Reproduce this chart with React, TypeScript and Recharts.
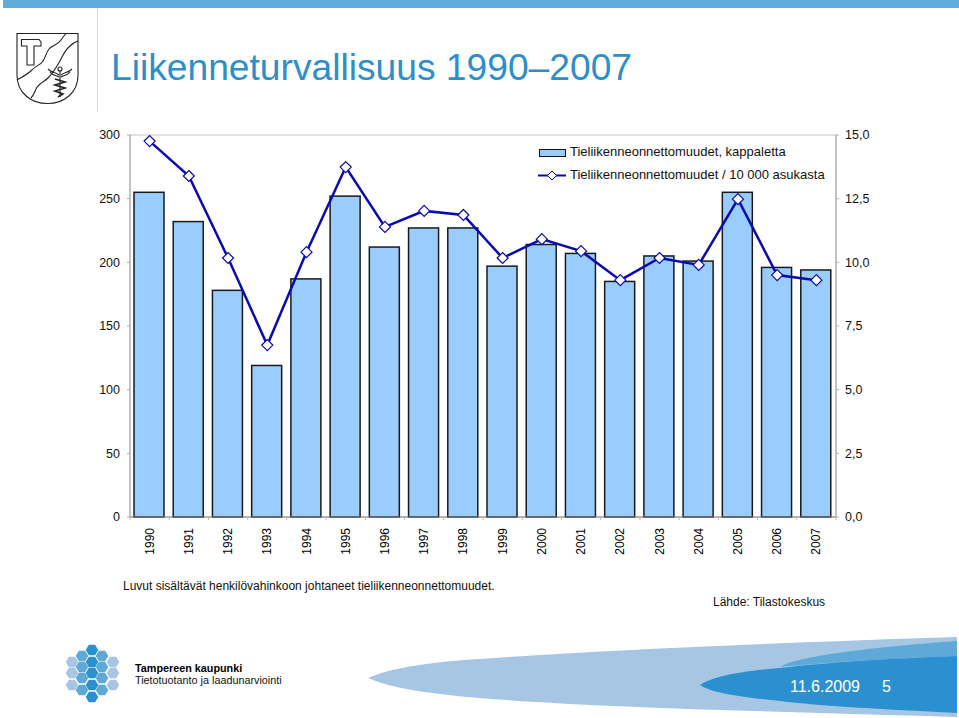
import React from 'react';
import { Bar, CartesianGrid, ComposedChart, Legend, Line, XAxis, YAxis } from 'recharts';

const years = ['1990', '1991', '1992', '1993', '1994', '1995', '1996', '1997', '1998', '1999', '2000', '2001', '2002', '2003', '2004', '2005', '2006', '2007'];
const accidents = [255, 232, 178, 119, 187, 252, 212, 227, 227, 197, 214, 207, 185, 205, 201, 255, 196, 194];
const perTenThousand = [14.76, 13.39, 10.17, 6.75, 10.4, 13.74, 11.39, 12.02, 11.86, 10.17, 10.91, 10.44, 9.3, 10.17, 9.9, 12.48, 9.5, 9.3];
const leftTicks = [0, 50, 100, 150, 200, 250, 300];
const rightTicks = [0, 2.5, 5, 7.5, 10, 12.5, 15];

const data = years.map((year, i) => ({ year, accidents: accidents[i], rate: perTenThousand[i] }));

const FONT = '"Liberation Sans", Arial, sans-serif';
const BAR_NAME = 'Tieliikenneonnettomuudet, kappaletta';
const LINE_NAME = 'Tieliikenneonnettomuudet / 10 000 asukasta';
const LINE_BLUE = '#0a0ab0';
const BAND = 706 / years.length;

// year label plus the small tick on the category boundary
const YearTick = ({ x, y, payload, index }: any) => (
  <g>
    <line x1={x - BAND / 2} x2={x - BAND / 2} y1={y - 8} y2={y - 5} stroke="#b8b8b8" />
    {index === years.length - 1 && (
      <line x1={x + BAND / 2} x2={x + BAND / 2} y1={y - 8} y2={y - 5} stroke="#b8b8b8" />
    )}
    <text
      transform={`translate(${x + 4},${y + 3}) rotate(-90)`}
      textAnchor="end"
      fontSize={12}
      fontFamily={FONT}
      fill="#000"
    >
      {payload.value}
    </text>
  </g>
);

const Diamond = ({ cx, cy }: any) => (
  <path
    d={`M${cx},${cy - 5.5}L${cx + 5.5},${cy}L${cx},${cy + 5.5}L${cx - 5.5},${cy}Z`}
    fill="#fff"
    stroke={LINE_BLUE}
    strokeWidth={1.2}
  />
);

const OutlinedBar = ({ x, y, width, height }: any) => (
  <rect x={x - 1} y={y} width={width} height={height} fill="#99ccff" stroke="#1a1a1a" strokeWidth={1.5} />
);

const ChartLegend = () => (
  <svg width={300} height={50} style={{ display: 'block' }}>
    <rect x={2.5} y={9.5} width={26} height={7} fill="#99ccff" stroke="#111" strokeWidth={1} />
    <text x={33} y={16} fontSize={13} fontFamily={FONT} fill="#111">{BAR_NAME}</text>
    <line x1={1} x2={29} y1={35.5} y2={35.5} stroke={LINE_BLUE} strokeWidth={2} />
    <path d="M15,31L19.500,35.500L15,40L10.500,35.500Z" fill="#fff" stroke={LINE_BLUE} />
    <text x={33} y={39} fontSize={13} fontFamily={FONT} fill="#111">{LINE_NAME}</text>
  </svg>
);

const hexCells = [
  [72, 662, '#a8c6e4'], [72, 673, '#a8c6e4'], [72, 685, '#a8c6e4'],
  [113, 662, '#a8c6e4'], [113, 673, '#a8c6e4'], [113, 685, '#a8c6e4'],
  [82, 656, '#5fa9d8'], [82, 667, '#5fa9d8'], [82, 678, '#5fa9d8'], [82, 690, '#5fa9d8'],
  [102, 656, '#5fa9d8'], [102, 667, '#5fa9d8'], [102, 678, '#5fa9d8'], [102, 690, '#5fa9d8'],
  [92, 650, '#2b90cf'], [92, 662, '#2b90cf'], [92, 673, '#2b90cf'], [92, 685, '#2b90cf'], [92, 697, '#2b90cf'],
] as const;

// slide furniture: header band, coat of arms, footer swooshes and logo
const Backdrop = () => (
  <svg width={959} height={718} style={{ position: 'absolute', left: 0, top: 0 }}>
    <rect x={3} y={0} width={956} height={8} fill="#5fadd8" />
    <line x1={97.5} x2={97.5} y1={8} y2={112} stroke="#c5dde8" />
    <g fill="none" stroke="#222" strokeWidth={1.1}>
      <path d="M17,33.500H78V75C78,93 64,103.500 47.500,103.500C31,103.500 17,93 17,75Z" />
      <path d="M21.500,39.500H39L41,42V46H34V65H27V46H21.500Z" />
      <path d="M17,80C24,76 28,74 32,70C36,65 40,66 43,61C46,56 46,53 49,49C52,45 58,45 61,40C63,37 64,36 66,33.500" />
      <path d="M31,98C35,94 35,88 39,85C42,82 45,81 48,78C53,73 56,68 60,61C63,55 65,50 70,46C73,43 75,42 78,41" />
      <path d="M48,69C52,73 55,72 59,75M72,69C68,73 65,72 61,75M50,72C53,76 56,75 59,77M70,72C67,76 64,75 61,77" />
      <circle cx={60} cy={69} r={2} />
      <path d="M60,71V97" />
      <path d="M55,79L65,82L55,85L65,88L55,91L63,94L58,97" strokeWidth={1.6} />
    </g>
    <path d="M368,678C390,668 430,662 480,659C600,650 800,642 957,637V717C800,712 600,708 480,698C430,694 390,688 368,678Z" fill="#a6c6e4" />
    <path d="M781,667C790,658 860,648 957,641V656C900,658 830,662 781,667Z" fill="#5fa9d8" />
    <path d="M700,685C715,675 745,671 780,668C830,662 900,658 957,656V713C880,709 820,706 780,701C740,697 712,693 700,685Z" fill="#2b90cf" />
    {hexCells.map(([x, y, fill], i) => (
      <path
        key={i}
        d={`M${x - 6.3},${y}L${x - 3.1},${y - 5.300}H${x + 3.1}L${x + 6.3},${y}L${x + 3.1},${y + 5.300}H${x - 3.1}Z`}
        fill={fill}
      />
    ))}
  </svg>
);

const labelStyle = (left: number, top: number, fontSize: number, color = '#111'): React.CSSProperties => ({
  position: 'absolute',
  left,
  top,
  fontSize,
  color,
  fontFamily: FONT,
  lineHeight: 1,
  whiteSpace: 'nowrap',
});

export default function App() {
  return (
    <div style={{ position: 'absolute', left: 0, top: 0, width: 959, height: 718, background: '#fff', overflow: 'hidden' }}>
      <Backdrop />
      <div style={labelStyle(111, 48.500, 37.200, '#2e8fc8')}>Liikenneturvallisuus 1990–2007</div>

      <div style={{ position: 'absolute', left: 0, top: 0 }}>
        <ComposedChart
          width={959}
          height={718}
          data={data}
          margin={{ top: 135, left: 90, right: 83, bottom: 151 }}
          barCategoryGap={0}
        >
          <CartesianGrid vertical={false} stroke="#c4c4c4" />
          <XAxis
            dataKey="year"
            interval={0}
            height={50}
            tick={<YearTick />}
            tickLine={false}
            axisLine={{ stroke: '#868686' }}
          />
          <YAxis
            yAxisId="left"
            domain={[0, 300]}
            ticks={leftTicks}
            width={40}
            tickSize={3}
            tickMargin={7}
            axisLine={{ stroke: '#868686' }}
            tickLine={{ stroke: '#b0b0b0' }}
            tick={{ fontSize: 12.5, fontFamily: FONT, fill: '#111' }}
          />
          <YAxis
            yAxisId="right"
            orientation="right"
            domain={[0, 15]}
            ticks={rightTicks}
            width={40}
            tickSize={3}
            tickMargin={6}
            axisLine={{ stroke: '#868686' }}
            tickLine={{ stroke: '#b0b0b0' }}
            tickFormatter={(v: number) => v.toFixed(1).replace('.', ',')}
            tick={{ fontSize: 12.5, fontFamily: FONT, fill: '#111' }}
          />
          <Bar
            yAxisId="left"
            dataKey="accidents"
            name={BAR_NAME}
            barSize={30}
            fill="#99ccff"
            shape={<OutlinedBar />}
            isAnimationActive={false}
          />
          <Line
            yAxisId="right"
            dataKey="rate"
            name={LINE_NAME}
            stroke={LINE_BLUE}
            strokeWidth={2.500}
            dot={<Diamond />}
            activeDot={false}
            isAnimationActive={false}
          />
          <Legend
            layout="horizontal"
            verticalAlign="middle"
            content={<ChartLegend />}
            wrapperStyle={{ left: 537, top: 140, width: 300, height: 50 }}
          />
        </ComposedChart>
      </div>

      <div style={labelStyle(123, 580, 12)}>Luvut sisältävät henkilövahinkoon johtaneet tieliikenneonnettomuudet.</div>
      <div style={labelStyle(713, 596, 12)}>Lähde: Tilastokeskus</div>
      <div style={{ ...labelStyle(135, 662.5, 10.800, '#000'), fontWeight: 700 }}>Tampereen kaupunki</div>
      <div style={labelStyle(135, 675, 10.800, '#111')}>Tietotuotanto ja laadunarviointi</div>
      <div style={labelStyle(790, 679, 16, '#fff')}>11.6.2009</div>
      <div style={labelStyle(882, 679, 16, '#fff')}>5</div>
    </div>
  );
}
